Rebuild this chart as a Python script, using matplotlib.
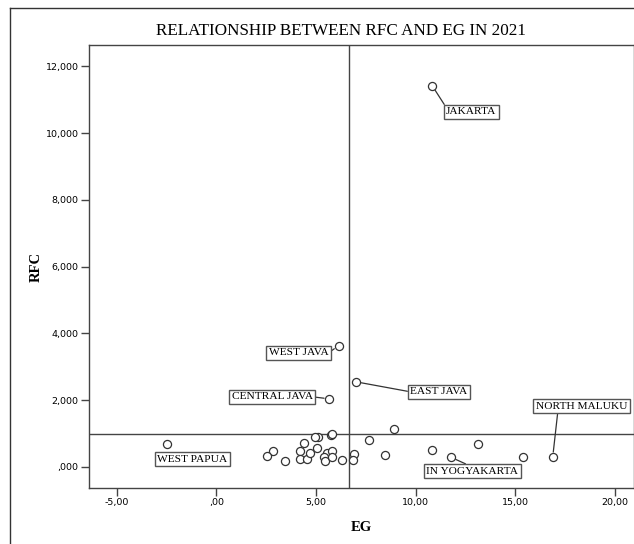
import matplotlib.pyplot as plt
from matplotlib.lines import Line2D
from matplotlib.ticker import FuncFormatter, MultipleLocator

# Economic growth (EG, %) and RFC per province, 2021
labelled = ["JAKARTA", "WEST JAVA", "EAST JAVA", "CENTRAL JAVA",
            "NORTH MALUKU", "IN YOGYAKARTA", "WEST PAPUA"]
labelled_eg = [10.84, 6.14, 7.01, 5.67, 16.88, 11.78, -2.50]
labelled_rfc = [11.41, 3.63, 2.55, 2.04, 0.29, 0.29, 0.68]

other_eg = [10.81, 13.15, 15.37, 8.93, 7.68, 8.48, 6.91, 6.84, 6.31,
            5.75, 5.80, 5.10, 4.94, 4.42, 2.83, 2.56, 3.45, 4.20, 4.20,
            4.54, 4.70, 5.04, 5.54, 5.40, 5.45, 5.79, 5.82]
other_rfc = [0.52, 0.70, 0.30, 1.14, 0.80, 0.35, 0.39, 0.21, 0.21,
             0.97, 0.99, 0.91, 0.91, 0.73, 0.49, 0.33, 0.19, 0.49, 0.25,
             0.25, 0.43, 0.56, 0.43, 0.29, 0.19, 0.49, 0.29]

# reference lines (means)
eg_ref = 6.64
rfc_ref = 0.995

# label box offsets in pixels and where the leader line leaves the box
offsets = [(39, -26), (-40, -7), (83, -10), (-57, 2), (29, 51), (21, -14), (26, -15)]
relpos = [(0, 1), (1, 0.5), (0, 0.5), (1, 0.5), (0.24, 0), (0.5, 1), None]

W, H = 634, 544
fig = plt.figure(figsize=(W / 100, H / 100), dpi=100)
ax = fig.add_axes([89 / W, 56 / H, (W - 89) / W, (488 - 45) / H])

edge = "#444444"
ax.axvline(eg_ref, color=edge, lw=1, zorder=1)
ax.axhline(rfc_ref, color=edge, lw=1, zorder=1)

eg_all = other_eg + labelled_eg
rfc_all = other_rfc + labelled_rfc
ax.scatter(eg_all, rfc_all, s=34, facecolors="white", edgecolors="#333333",
           linewidths=0.9, zorder=3)

for name, x, y, off, rp in zip(labelled, labelled_eg, labelled_rfc, offsets, relpos):
    arrow = None
    if rp is not None:
        arrow = dict(arrowstyle="-", color="#333333", lw=0.9, relpos=rp,
                     shrinkA=0, shrinkB=3.8)
    ax.annotate(name, (x, y), xytext=off, textcoords="offset pixels",
                ha="center", va="center", fontsize=8.2, family="Liberation Serif",
                bbox=dict(boxstyle="square,pad=0.22", fc="white", ec="#555555", lw=1),
                arrowprops=arrow, zorder=4)

ax.set_xlim(-6.39, 20.96)
ax.set_ylim(-0.629, 12.635)
ax.xaxis.set_major_locator(MultipleLocator(5))
ax.yaxis.set_major_locator(MultipleLocator(2))


def comma_fmt(decimals):
    def fmt(v, pos):
        s = f"{v:.{decimals}f}".replace(".", ",")
        if s.startswith("0,"):
            s = s[1:]
        elif s.startswith("-0,"):
            s = "-" + s[2:]
        return s
    return FuncFormatter(fmt)


ax.xaxis.set_major_formatter(comma_fmt(2))
ax.yaxis.set_major_formatter(comma_fmt(3))
ax.tick_params(direction="out", length=6, width=1, color=edge,
               labelsize=6.8, pad=1.5)
for sp in ax.spines.values():
    sp.set_color(edge)
    sp.set_linewidth(1)

ax.set_xlabel("EG", family="Liberation Serif", fontsize=10.5, fontweight="bold",
              labelpad=10)
ax.set_ylabel("RFC", family="Liberation Serif", fontsize=10.5, fontweight="bold",
              labelpad=2)

fig.text(341 / W, 1 - 31 / H, "RELATIONSHIP BETWEEN RFC AND EG IN 2021",
         ha="center", va="center", family="Liberation Serif", fontsize=12.3)

# outer chart frame
fig.add_artist(Line2D([10 / W, 10 / W], [0, 1 - 8 / H], transform=fig.transFigure,
                      color="#333333", lw=1))
fig.add_artist(Line2D([10 / W, 1], [1 - 8 / H, 1 - 8 / H], transform=fig.transFigure,
                      color="#333333", lw=1))

fig.savefig("out.png", dpi=100)
